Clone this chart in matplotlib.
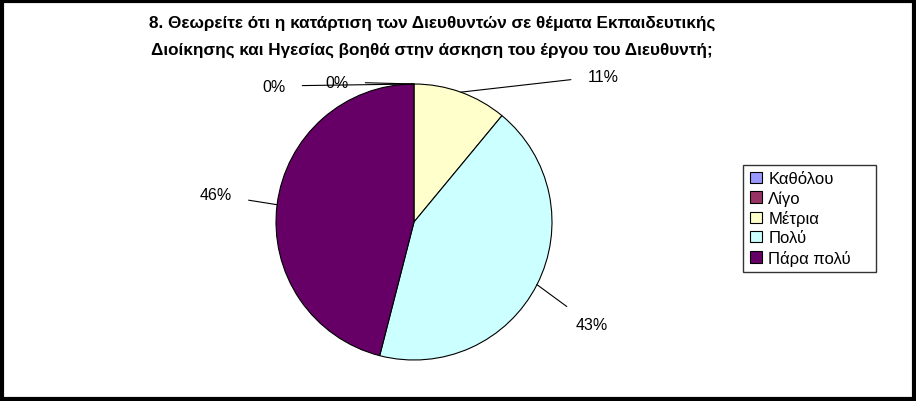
import matplotlib
matplotlib.use("Agg")
import matplotlib.pyplot as plt
import numpy as np

categories = ["Καθόλου", "Λίγο", "Μέτρια", "Πολύ", "Πάρα πολύ"]
values = [0, 0, 11, 43, 46]
labels = ["0%", "0%", "11%", "43%", "46%"]
colors = ["#9999FF", "#993366", "#FFFFCC", "#CCFFFF", "#660066"]
label_px = [(274, 87), (337, 83), (603, 77), (592, 326), (216, 196)]

W, H = 916, 402
plt.rcParams['font.family'] = ['Liberation Sans', 'DejaVu Sans']
fig = plt.figure(figsize=(W/100, H/100), dpi=100)
fig.patches.append(plt.Rectangle((0.002, 0.004), 0.996, 0.992, transform=fig.transFigure,
                                 fill=False, lw=3, ec='black'))
fig.text(432/W, 1-23/H, "8. Θεωρείτε ότι η κατάρτιση των Διευθυντών σε θέματα Εκπαιδευτικής",
         ha='center', va='center', fontsize=12.3, fontweight='bold')
fig.text(432/W, 1-50/H, "Διοίκησης και Ηγεσίας βοηθά στην άσκηση του έργου του Διευθυντή;",
         ha='center', va='center', fontsize=12.3, fontweight='bold')

cx, cy, r = 414, 223, 138
ax = fig.add_axes([(cx-r)/W, 1-(cy+r)/H, 2*r/W, 2*r/H])
wedges, _ = ax.pie(values, colors=colors, startangle=90, counterclock=False,
                   wedgeprops=dict(edgecolor='black', linewidth=0.8), radius=1)
ax.set_xlim(-1, 1); ax.set_ylim(-1, 1); ax.set_aspect('auto'); ax.axis('off')

total = sum(values)
cum = 0
for v, lab, (lx, ly) in zip(values, labels, label_px):
    mid = 90 - (cum + v/2) / total * 360
    cum += v
    px, py = np.cos(np.radians(mid)), np.sin(np.radians(mid))
    tx = (lx - cx) / r
    ty = (cy - ly) / r
    ax.annotate(lab, xy=(px, py), xytext=(tx, ty), ha='center', va='center',
                fontsize=11.5, annotation_clip=False,
                arrowprops=dict(arrowstyle='-', lw=0.8, color='black', shrinkA=10, shrinkB=0))

from matplotlib.patches import Patch
handles = [Patch(facecolor=c, edgecolor='black', lw=0.8) for c in colors]
lax = fig.add_axes([735/W, 1-282/H, 149/W, 125/H]); lax.axis('off')
lax.legend(handles, categories, loc='center', frameon=True, fancybox=False,
           edgecolor='black', fontsize=12, handlelength=0.7, handleheight=0.7,
           handletextpad=0.4, labelspacing=0.25, borderpad=0.4, mode='expand',
           bbox_to_anchor=(0, 0, 1, 1))
fig.savefig("out.png", dpi=100)
